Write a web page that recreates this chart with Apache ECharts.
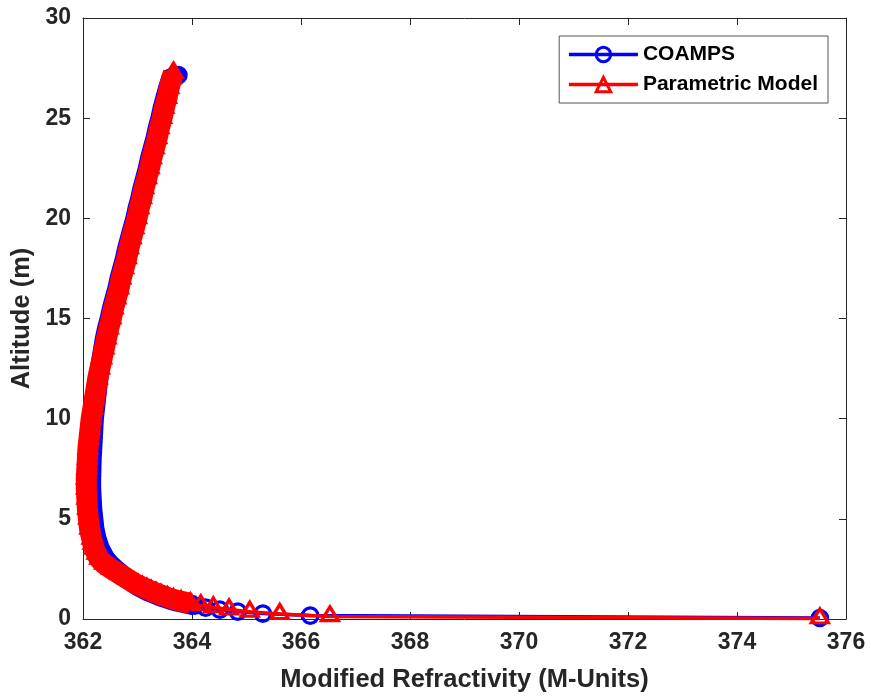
<!DOCTYPE html>
<html><head><meta charset="utf-8">
<script src="https://cdn.jsdelivr.net/npm/echarts@6/dist/echarts.min.js"></script>
<style>html,body{margin:0;padding:0;background:#fff}#c{width:871px;height:696px}</style>
</head><body><div id="c"></div>
<script>
// ---- data ----
const seriesNames = ['COAMPS', 'Parametric Model'];
const xTickValues = [362, 364, 366, 368, 370, 372, 374, 376];
const yTickValues = [0, 5, 10, 15, 20, 25, 30];

// COAMPS: altitude (m) and modified refractivity (M-units)
const blueAlt = [0.05,0.17,0.27,0.37,0.47,0.57,0.67,0.77,0.87,0.97,1.07,1.17,1.27,1.37,1.47,1.57,1.67,1.77,1.87,1.97,2.25,2.5,2.75,3.0,3.5,4.0,4.5,5.0,5.5,6.0,6.5,7.0,7.5,8.0,8.5,9.0,9.5,10.0,10.5,11.0,11.5,12.0,12.5,13.0,13.5,14.0,14.5,15.0,15.5,16.0,16.5,17.0,17.5,18.0,18.5,19.0,19.5,20.0,20.5,21.0,21.5,22.0,22.5,23.0,23.5,24.0,24.5,25.0,25.5,26.0,26.5,27.0,27.15];
const blueM = [375.52,366.17,365.30,364.84,364.51,364.25,364.05,363.88,363.72,363.59,363.48,363.38,363.29,363.20,363.13,363.06,362.99,362.93,362.88,362.83,362.70,362.59,362.49,362.41,362.31,362.25,362.21,362.19,362.17,362.16,362.15,362.15,362.155,362.16,362.17,362.18,362.19,362.20,362.22,362.24,362.26,362.285,362.31,362.34,362.37,362.40,362.44,362.49,362.53,362.58,362.63,362.67,362.72,362.77,362.81,362.86,362.91,362.96,363.00,363.05,363.09,363.14,363.19,363.23,363.28,363.33,363.37,363.42,363.46,363.51,363.56,363.62,363.75];

// Parametric Model
const redAlt = [0.03,0.13,0.25,0.36,0.47,0.58,0.68,0.78,0.88,0.98,1.08,1.2,1.3,1.4,1.5,1.6,1.7,1.8,1.9,2.0,2.25,2.5,2.75,3.0,3.25,3.5,3.75,4.0,4.5,5.0,5.5,6.0,6.5,7.0,7.5,8.0,8.5,9.0,9.5,10.0,10.5,11.0,11.5,12.0,12.5,13.0,13.5,14.0,14.5,15.0,15.5,16.0,16.5,17.0,17.5,18.0,18.5,19.0,19.5,20.0,20.5,21.0,21.5,22.0,22.5,23.0,23.5,24.0,24.5,25.0,25.5,26.0,26.5,27.0,27.27];
const redM = [375.52,366.53,365.61,365.06,364.68,364.39,364.16,363.97,363.80,363.66,363.55,363.43,363.34,363.25,363.17,363.09,363.01,362.94,362.88,362.82,362.67,362.52,362.39,362.30,362.25,362.21,362.18,362.16,362.12,362.10,362.08,362.07,362.06,362.06,362.07,362.08,362.09,362.11,362.13,362.15,362.18,362.21,362.24,362.27,362.31,362.35,362.39,362.43,362.47,362.52,362.56,362.61,362.66,362.70,362.75,362.80,362.84,362.89,362.94,362.99,363.03,363.08,363.12,363.17,363.22,363.26,363.31,363.36,363.40,363.45,363.49,363.54,363.58,363.63,363.66];

// ---- build chart ----
const BLUE = '#0000ff', RED = '#ff0000', AX = '#262626';
const FONT = 'Liberation Sans, Arial, sans-serif';
const blueDenseFrom = 0.67, redDenseFrom = 0.78; // where markers overlap into a solid band

const pairs = (ms, alts) => ms.map((m, i) => [m, alts[i]]);
const bluePts = pairs(blueM, blueAlt);
const redPts = pairs(redM, redAlt);
const items = (p, from, col) => p.map(v => v[1] >= from ? { value: v, itemStyle: { color: col } } : { value: v });

const xMin = xTickValues[0], xMax = xTickValues[xTickValues.length - 1];
const yMin = yTickValues[0], yMax = yTickValues[yTickValues.length - 1];

function xAx(pos, show) {
  return {
    type: 'value', min: xMin, max: xMax, interval: xTickValues[1] - xTickValues[0], position: pos,
    axisLine: { show: true, onZero: false, lineStyle: { color: AX, width: 1 } },
    axisTick: { show: true, inside: true, length: 7, lineStyle: { color: AX, width: 1 } },
    axisLabel: { show: show, margin: 12, fontSize: 23, fontWeight: 'bold', color: AX, fontFamily: FONT },
    splitLine: { show: false },
    name: show ? 'Modified Refractivity (M-Units)' : '', nameLocation: 'middle', nameGap: 48,
    nameTextStyle: { fontSize: 25.5, fontWeight: 'bold', color: AX, fontFamily: FONT }
  };
}
function yAx(pos, show) {
  return {
    type: 'value', min: yMin, max: yMax, interval: yTickValues[1] - yTickValues[0], position: pos,
    axisLine: { show: true, onZero: false, lineStyle: { color: AX, width: 1 } },
    axisTick: { show: true, inside: true, length: 7, lineStyle: { color: AX, width: 1 } },
    axisLabel: { show: show, margin: 12, fontSize: 23, fontWeight: 'bold', color: AX, fontFamily: FONT },
    splitLine: { show: false },
    name: show ? 'Altitude (m)' : '', nameLocation: 'middle', nameGap: 33, nameRotate: 90,
    nameTextStyle: { fontSize: 25.5, fontWeight: 'bold', color: AX, fontFamily: FONT }
  };
}

const chart = echarts.init(document.getElementById('c'), null, { renderer: 'canvas' });
chart.setOption({
  animation: false,
  backgroundColor: '#fff',
  grid: { left: 83, right: 25, top: 18, bottom: 77, containLabel: false, outerBoundsMode: 'none' },
  legend: {
    data: seriesNames, orient: 'vertical', right: 43, top: 36,
    itemWidth: 69, itemHeight: 18, itemGap: 9, padding: [8, 10, 8, 8],
    borderColor: '#555', borderWidth: 1, borderRadius: 0, backgroundColor: '#fff',
    lineStyle: { width: 3.5 },
    itemStyle: { borderWidth: 3 },
    textStyle: { fontSize: 21, fontWeight: 'bold', color: '#000', fontFamily: FONT }
  },
  xAxis: [xAx('bottom', true), xAx('top', false)],
  yAxis: [yAx('left', true), yAx('right', false)],
  series: [
    { type: 'line', silent: true, xAxisIndex: 0, yAxisIndex: 0, z: 2, clip: false,
      data: bluePts.filter(p => p[1] >= blueDenseFrom), symbol: 'none',
      lineStyle: { color: BLUE, width: 20, join: 'round', cap: 'butt' } },
    { name: seriesNames[0], type: 'line', xAxisIndex: 0, yAxisIndex: 0, z: 3, clip: false,
      data: items(bluePts, blueDenseFrom, BLUE), symbol: 'circle', symbolSize: 15.5, showAllSymbol: true,
      itemStyle: { color: 'rgba(0,0,0,0)', borderColor: BLUE, borderWidth: 3.2 },
      lineStyle: { color: BLUE, width: 3.5 } },
    { type: 'line', silent: true, xAxisIndex: 0, yAxisIndex: 0, z: 4, clip: false,
      data: redPts.filter(p => p[1] >= redDenseFrom), symbol: 'none',
      lineStyle: { color: RED, width: 21, join: 'round', cap: 'butt' } },
    { name: seriesNames[1], type: 'line', xAxisIndex: 0, yAxisIndex: 0, z: 5, clip: false,
      data: items(redPts, redDenseFrom, RED), symbol: 'triangle', symbolSize: [17, 14], symbolOffset: [0, -2.5], showAllSymbol: true,
      itemStyle: { color: 'rgba(0,0,0,0)', borderColor: RED, borderWidth: 3.2 },
      lineStyle: { color: RED, width: 3.5 } }
  ]
});
</script>
</body></html>
